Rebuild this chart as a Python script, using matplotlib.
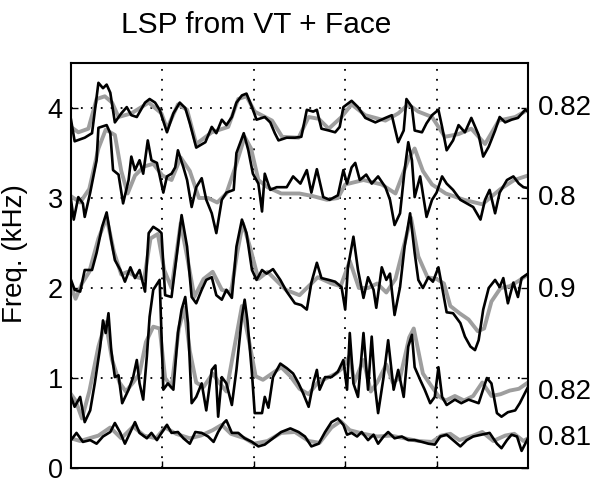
import matplotlib
matplotlib.use("Agg")
import matplotlib.pyplot as plt

# ---- data (kHz vs. time units) ----
# 5th line spectrum pair
t5_black = [0.00, 0.04, 0.15, 0.23, 0.30, 0.35, 0.39, 0.43, 0.48, 0.55,
            0.61, 0.66, 0.72, 0.81, 0.86, 0.92, 0.97, 1.05, 1.12, 1.19,
            1.25, 1.30, 1.37, 1.47, 1.54, 1.59, 1.65, 1.70, 1.76, 1.81,
            1.87, 1.92, 1.98, 2.03, 2.12, 2.18, 2.23, 2.27, 2.36, 2.45,
            2.52, 2.58, 2.65, 2.69, 2.74, 2.82, 2.89, 2.94, 2.98, 3.07,
            3.14, 3.22, 3.33, 3.44, 3.51, 3.54, 3.58, 3.64, 3.67, 3.73,
            3.76, 3.84, 3.89, 3.95, 4.02, 4.06, 4.11, 4.18, 4.24, 4.31,
            4.38, 4.46, 4.51, 4.57, 4.64, 4.69, 4.75, 4.82, 4.89, 4.97,
            5.00]
f5_black = [3.87, 3.63, 3.67, 3.72, 4.28, 4.22, 4.26, 4.17, 3.84, 3.94,
            4.01, 3.92, 3.90, 4.06, 4.10, 4.06, 3.98, 3.73, 3.94, 4.06,
            4.00, 3.83, 3.56, 3.62, 3.79, 3.72, 3.87, 3.81, 3.90, 4.06,
            4.14, 4.16, 4.01, 3.87, 3.90, 3.84, 3.72, 3.64, 3.67, 3.67,
            3.68, 3.98, 3.96, 3.98, 3.77, 3.75, 3.73, 3.79, 4.01, 4.08,
            4.01, 3.89, 3.84, 3.89, 3.92, 3.79, 3.62, 3.75, 4.10, 4.01,
            3.75, 3.73, 3.83, 3.92, 3.98, 3.79, 3.53, 3.64, 3.81, 3.73,
            3.89, 3.70, 3.46, 3.57, 3.75, 3.90, 3.84, 3.87, 3.89, 3.98,
            3.96]
t5_gray = [0.00, 0.08, 0.19, 0.28, 0.37, 0.45, 0.52, 0.66, 0.85, 0.99,
           1.05, 1.17, 1.27, 1.37, 1.54, 1.72, 1.83, 1.92, 2.01, 2.20,
           2.31, 2.49, 2.60, 2.71, 2.82, 2.96, 3.07, 3.22, 3.44, 3.58,
           3.69, 3.80, 3.95, 4.09, 4.24, 4.38, 4.53, 4.68, 4.86, 5.00]
f5_gray = [3.79, 3.73, 3.77, 4.10, 4.13, 4.06, 3.90, 3.94, 4.06, 3.94,
           3.77, 4.04, 3.98, 3.60, 3.73, 3.79, 4.10, 4.13, 3.96, 3.86,
           3.68, 3.67, 3.90, 3.88, 3.77, 3.90, 4.04, 3.92, 3.86, 3.94,
           4.04, 3.96, 3.90, 3.68, 3.71, 3.77, 3.60, 3.86, 3.90, 3.98]

# 4th
t4_black = [0.00, 0.03, 0.08, 0.13, 0.15, 0.21, 0.28, 0.30, 0.39, 0.43,
            0.46, 0.52, 0.57, 0.63, 0.66, 0.70, 0.75, 0.79, 0.84, 0.88,
            0.94, 1.01, 1.05, 1.10, 1.14, 1.17, 1.23, 1.27, 1.32, 1.37,
            1.43, 1.48, 1.54, 1.59, 1.65, 1.70, 1.78, 1.81, 1.89, 1.94,
            1.99, 2.05, 2.09, 2.12, 2.18, 2.25, 2.36, 2.43, 2.51, 2.58,
            2.63, 2.69, 2.76, 2.83, 2.92,
            2.98, 3.02, 3.07, 3.11, 3.16, 3.23, 3.29, 3.36, 3.44, 3.49,
            3.54, 3.60, 3.65, 3.69, 3.73, 3.76, 3.82, 3.89, 3.95, 4.00,
            4.06, 4.11, 4.18, 4.26, 4.33, 4.40, 4.48, 4.53, 4.58, 4.64,
            4.69, 4.77, 4.84, 4.90, 4.95, 5.00]
f4_black = [2.98, 2.76, 3.01, 2.94, 2.79, 3.06, 3.42, 3.78, 3.81, 3.72,
            3.31, 3.26, 2.94, 3.20, 3.46, 3.31, 3.42, 3.27, 3.64, 3.42,
            3.39, 3.06, 3.24, 3.27, 3.34, 3.53, 3.34, 3.20, 2.90, 3.12,
            3.22, 2.98, 2.83, 2.61, 2.98, 3.06, 3.09, 3.50, 3.72, 3.53,
            3.27, 3.16, 2.85, 3.27, 3.09, 3.12, 3.12, 3.24, 3.16, 3.31,
            3.06, 3.32, 3.01, 2.98, 3.03,
            3.31, 3.16, 3.34, 3.39, 3.20, 3.26, 3.16, 3.24, 3.12, 2.98,
            2.70, 2.83, 3.31, 3.62, 3.42, 3.01, 3.24, 2.79, 2.98, 3.06,
            3.24, 3.16, 3.09, 2.98, 2.94, 2.90, 2.76, 2.98, 3.09, 2.83,
            3.06, 3.20, 3.24, 3.16, 3.12, 3.11]
t4_gray = [0.0, 0.1, 0.2, 0.3, 0.38, 0.48, 0.55, 0.62, 0.7, 0.8,
           0.9, 1.0, 1.1, 1.2, 1.3, 1.4, 1.5, 1.6, 1.7, 1.8,
           1.9, 1.97, 2.05, 2.15, 2.3, 2.5, 2.65, 2.8, 2.92, 3.0,
           3.2, 3.4, 3.55, 3.7, 3.76, 3.85, 3.95, 4.1, 4.3, 4.5,
           4.7, 4.85, 5.0]
f4_gray = [3.02, 2.95, 3.1, 3.55, 3.76, 3.7, 3.3, 3.05, 3.25, 3.35,
           3.38, 3.25, 3.2, 3.45, 3.3, 3.0, 3.0, 2.95, 3.05, 3.35,
           3.68, 3.55, 3.2, 3.12, 3.05, 3.05, 3.02, 2.98, 3.0, 3.15,
           3.2, 3.15, 3.05, 3.45, 3.55, 3.3, 3.15, 3.05, 2.98, 2.93,
           3.1, 3.2, 3.25]

# 3rd
t3_black = [0.00, 0.04, 0.10, 0.15, 0.23, 0.28, 0.34, 0.39, 0.44, 0.48,
            0.54, 0.59, 0.65, 0.70, 0.75, 0.81, 0.85, 0.90, 0.96, 0.99,
            1.03, 1.10, 1.16, 1.21, 1.27, 1.32, 1.37, 1.43, 1.48, 1.54,
            1.59, 1.65, 1.70, 1.76, 1.81, 1.87, 1.92, 1.98, 2.03, 2.09,
            2.14, 2.21, 2.29, 2.36, 2.45, 2.52, 2.58, 2.63, 2.69, 2.74,
            2.82, 2.89, 2.96, 3.00, 3.03, 3.09, 3.14, 3.20, 3.25, 3.31,
            3.34, 3.40, 3.45, 3.49, 3.54, 3.60, 3.65, 3.71, 3.76, 3.80,
            3.85, 3.91, 3.96, 4.02, 4.06, 4.11, 4.18, 4.26, 4.31, 4.37,
            4.42, 4.46, 4.51, 4.57, 4.64, 4.69, 4.73, 4.78, 4.84, 4.89,
            4.93, 5.00]
f3_black = [2.09, 1.98, 1.96, 2.20, 2.20, 2.39, 2.68, 2.84, 2.53, 2.31,
            2.20, 2.07, 2.23, 2.11, 2.20, 1.96, 2.61, 2.68, 2.64, 2.61,
            1.92, 1.90, 2.39, 2.81, 2.46, 1.90, 1.83, 1.98, 2.09, 2.12,
            1.92, 1.87, 1.98, 1.89, 2.46, 2.76, 2.61, 2.20, 2.09, 2.20,
            2.16, 2.21, 2.09, 1.96, 1.83, 1.81, 1.76, 2.06, 2.28, 2.11,
            2.09, 2.07, 2.01, 1.76, 2.23, 2.57, 2.20, 1.89, 2.12, 1.98,
            1.78, 2.23, 2.09, 2.16, 1.70, 2.01, 2.46, 2.83, 2.39, 2.09,
            2.00, 2.12, 2.07, 2.23, 2.01, 1.73, 1.72, 1.61, 1.46, 1.35,
            1.31, 1.42, 1.76, 2.00, 2.09, 2.01, 2.11, 1.83, 2.06, 1.90,
            2.11, 2.16]
t3_gray = [0.0, 0.05, 0.12, 0.2, 0.3, 0.39, 0.47, 0.55, 0.62, 0.72,
           0.8, 0.87, 0.95, 1.02, 1.1, 1.2, 1.27, 1.35, 1.45, 1.55,
           1.65, 1.75, 1.82, 1.88, 1.96, 2.05, 2.15, 2.25, 2.35, 2.5,
           2.6, 2.7, 2.85, 2.95, 3.05, 3.15, 3.25, 3.35, 3.45, 3.55,
           3.65, 3.72, 3.8, 3.9, 4.0, 4.08, 4.15, 4.25, 4.35, 4.45,
           4.52, 4.6, 4.7, 4.8, 4.9, 5.0]
f3_gray = [2.02, 1.88, 2.05, 2.18, 2.55, 2.78, 2.4, 2.15, 2.18, 2.12,
           2.1, 2.55, 2.6, 2.2, 2.0, 2.72, 2.35, 1.9, 2.1, 2.18,
           1.98, 1.95, 2.4, 2.72, 2.45, 2.1, 2.18, 2.08, 1.98, 1.92,
           2.02, 2.12, 2.05, 2.02, 2.3, 2.0, 2.0, 2.05, 1.95, 2.1,
           2.5, 2.78, 2.35, 2.12, 2.1, 2.05, 1.8, 1.72, 1.65, 1.52,
           1.55, 1.85, 2.0, 2.02, 2.08, 2.15]

# 2nd
t2_black = [0.00, 0.04, 0.10, 0.15, 0.21, 0.26, 0.32, 0.35, 0.38, 0.41,
            0.44, 0.48, 0.52, 0.56, 0.63, 0.68, 0.72, 0.75, 0.79, 0.83,
            0.86, 0.90, 0.97, 1.01, 1.06, 1.12, 1.17, 1.21, 1.25, 1.28,
            1.32, 1.37, 1.43, 1.48, 1.54, 1.58, 1.61, 1.65, 1.70, 1.76,
            1.81, 1.87, 1.90, 1.93, 1.98, 2.01, 2.09, 2.12, 2.16, 2.21,
            2.29, 2.36, 2.43, 2.49, 2.54, 2.60, 2.65, 2.69, 2.72, 2.78,
            2.85, 2.92, 2.98, 3.02, 3.05, 3.09, 3.14, 3.20, 3.25, 3.29,
            3.33, 3.36, 3.42, 3.47, 3.53, 3.58, 3.64, 3.69, 3.73, 3.76,
            3.82, 3.87, 3.93, 3.98, 4.02, 4.06, 4.11, 4.20, 4.27, 4.35,
            4.46, 4.55, 4.60, 4.66, 4.71, 4.78, 4.86, 4.91, 5.00]
f2_black = [0.79, 0.68, 0.79, 0.51, 0.64, 0.94, 1.35, 1.64, 1.50, 1.72,
            1.31, 1.01, 1.03, 0.72, 0.87, 1.01, 1.20, 0.94, 0.76, 1.24,
            1.68, 1.98, 2.09, 0.87, 0.94, 0.87, 1.50, 1.76, 1.90, 1.61,
            0.72, 0.79, 0.94, 0.64, 1.09, 1.14, 0.57, 1.01, 0.94, 0.70,
            1.09, 1.68, 1.87, 1.64, 1.05, 0.61, 0.61, 0.79, 0.67, 1.01,
            1.16, 1.11, 1.05, 0.94, 0.83, 0.68, 0.94, 1.09, 0.87, 1.01,
            1.01, 1.07, 1.20, 0.87, 1.50, 0.94, 0.79, 1.50, 0.87, 1.46,
            0.87, 0.61, 1.01, 1.42, 0.87, 1.09, 0.79, 1.35, 1.48, 1.12,
            0.98, 0.87, 0.72, 0.79, 1.12, 0.79, 0.70, 0.76, 0.72, 0.76,
            0.72, 1.00, 0.94, 0.61, 0.57, 0.62, 0.64, 0.72, 0.90]
t2_gray = [0.0, 0.05, 0.12, 0.2, 0.3, 0.38, 0.45, 0.53, 0.6, 0.68,
           0.75, 0.82, 0.9, 0.97, 1.03, 1.1, 1.18, 1.24, 1.3, 1.37,
           1.45, 1.55, 1.62, 1.7, 1.78, 1.87, 1.95, 2.02, 2.1, 2.2,
           2.3, 2.4, 2.5, 2.6, 2.7, 2.8, 2.9, 2.98, 3.05, 3.1,
           3.2, 3.28, 3.35, 3.45, 3.52, 3.6, 3.7, 3.75, 3.85, 3.95,
           4.02, 4.1, 4.2, 4.3, 4.4, 4.5, 4.6, 4.7, 4.8, 4.9,
           5.0]
f2_gray = [0.82, 0.75, 0.55, 0.85, 1.35, 1.62, 1.2, 0.95, 0.85, 0.95,
           1.05, 1.4, 1.57, 1.55, 1.0, 0.9, 1.55, 1.78, 1.3, 0.95,
           0.9, 1.05, 0.95, 0.85, 1.3, 1.8, 1.4, 1.02, 0.98, 1.05,
           1.12, 1.02, 0.88, 0.82, 0.95, 1.0, 1.05, 1.12, 1.25, 0.95,
           1.2, 0.85, 0.95, 1.15, 0.95, 1.0, 1.45, 1.55, 1.05, 0.9,
           0.8, 0.75, 0.8, 0.75, 0.8, 0.95, 0.8, 0.82, 0.86, 0.88,
           0.95]

# 1st
t1_black = [0.00, 0.06, 0.13, 0.21, 0.28, 0.35, 0.43, 0.48, 0.54, 0.59,
            0.65, 0.70, 0.75, 0.83, 0.88, 0.94, 0.99, 1.05, 1.10, 1.17,
            1.23, 1.30, 1.36, 1.43, 1.50, 1.56, 1.61, 1.67, 1.70, 1.76,
            1.83, 1.90, 1.98, 2.05, 2.12, 2.21, 2.30, 2.40, 2.49, 2.56,
            2.63, 2.71, 2.78, 2.85, 2.92, 2.98, 3.02, 3.07, 3.13, 3.18,
            3.25, 3.31, 3.36, 3.42, 3.47, 3.54, 3.62, 3.69, 3.76, 3.84,
            3.91, 3.98, 4.04, 4.11, 4.18, 4.26, 4.33, 4.40, 4.49, 4.58,
            4.66, 4.71, 4.77, 4.82, 4.88, 4.93, 5.00]
f1_black = [0.31, 0.39, 0.29, 0.31, 0.27, 0.35, 0.40, 0.50, 0.39, 0.27,
            0.40, 0.51, 0.39, 0.33, 0.39, 0.31, 0.39, 0.48, 0.39, 0.40,
            0.33, 0.27, 0.40, 0.39, 0.35, 0.29, 0.40, 0.50, 0.53, 0.39,
            0.39, 0.33, 0.29, 0.24, 0.26, 0.33, 0.40, 0.44, 0.40, 0.35,
            0.24, 0.27, 0.40, 0.51, 0.55, 0.48, 0.37, 0.39, 0.35, 0.40,
            0.31, 0.37, 0.27, 0.35, 0.40, 0.33, 0.35, 0.31, 0.31, 0.29,
            0.27, 0.26, 0.35, 0.37, 0.31, 0.24, 0.31, 0.35, 0.37, 0.39,
            0.27, 0.22, 0.31, 0.37, 0.35, 0.19, 0.33]
t1_gray = [0.0, 0.1, 0.2, 0.3, 0.43, 0.55, 0.68, 0.8, 0.93, 1.03,
           1.15, 1.3, 1.42, 1.55, 1.65, 1.75, 1.9, 2.0, 2.15, 2.3,
           2.45, 2.6, 2.72, 2.85, 2.95, 3.05, 3.2, 3.35, 3.5, 3.65,
           3.8, 3.95, 4.05, 4.15, 4.25, 4.4, 4.5, 4.62, 4.75, 4.85,
           4.95, 5.0]
f1_gray = [0.33, 0.3, 0.33, 0.36, 0.45, 0.33, 0.46, 0.36, 0.33, 0.45,
           0.38, 0.33, 0.36, 0.42, 0.48, 0.38, 0.33, 0.27, 0.3, 0.39,
           0.4, 0.3, 0.28, 0.45, 0.52, 0.42, 0.38, 0.35, 0.36, 0.33,
           0.3, 0.29, 0.36, 0.38, 0.31, 0.36, 0.4, 0.3, 0.36, 0.38,
           0.3, 0.33]

# correlation per trace, and the height where it is written
corr_labels = ["0.82", "0.8", "0.9", "0.82", "0.81"]
corr_y = [4.0, 3.0, 1.98, 0.84, 0.33]

plt.rcParams['font.family'] = ['Liberation Sans', 'DejaVu Sans']

fig = plt.figure(figsize=(6.1, 4.82), dpi=100)
ax = fig.add_axes([71/610, 14/482, 457/610, 405/482])

gray_sets = [(t5_gray, f5_gray), (t4_gray, f4_gray), (t3_gray, f3_gray),
             (t2_gray, f2_gray), (t1_gray, f1_gray)]
black_sets = [(t5_black, f5_black), (t4_black, f4_black), (t3_black, f3_black),
              (t2_black, f2_black), (t1_black, f1_black)]

for t, f in gray_sets:
    ax.plot(t, f, color='0.62', lw=2.8, solid_joinstyle='round', zorder=2)
for t, f in black_sets:
    ax.plot(t, f, color='black', lw=1.9, solid_joinstyle='round', zorder=3)

ax.set_xlim(0, 5)
ax.set_ylim(0, 4.5)
ax.set_xticks([1, 2, 3, 4])
ax.set_xticklabels([])
ax.set_yticks([0, 1, 2, 3, 4])
ax.tick_params(axis='both', direction='in', length=5, width=1, labelsize=19.5,
               pad=6, right=True)
ax.grid(True, color='black', linestyle=(0, (1, 4.5)), lw=1.3)
for s in ax.spines.values():
    s.set_linewidth(1.5)

ax.set_ylabel("Freq. (kHz)", fontsize=20)
ax.yaxis.set_label_coords(-0.095, 0.53)

for lab, yy in zip(corr_labels, corr_y):
    ax.text(1.022, yy, lab, transform=ax.get_yaxis_transform(),
            fontsize=20, ha='left', va='center')

fig.text(256/610, 1 - 25/482, "LSP from VT + Face", fontsize=21.5,
         ha='center', va='center')

fig.savefig("out.png", dpi=100)
